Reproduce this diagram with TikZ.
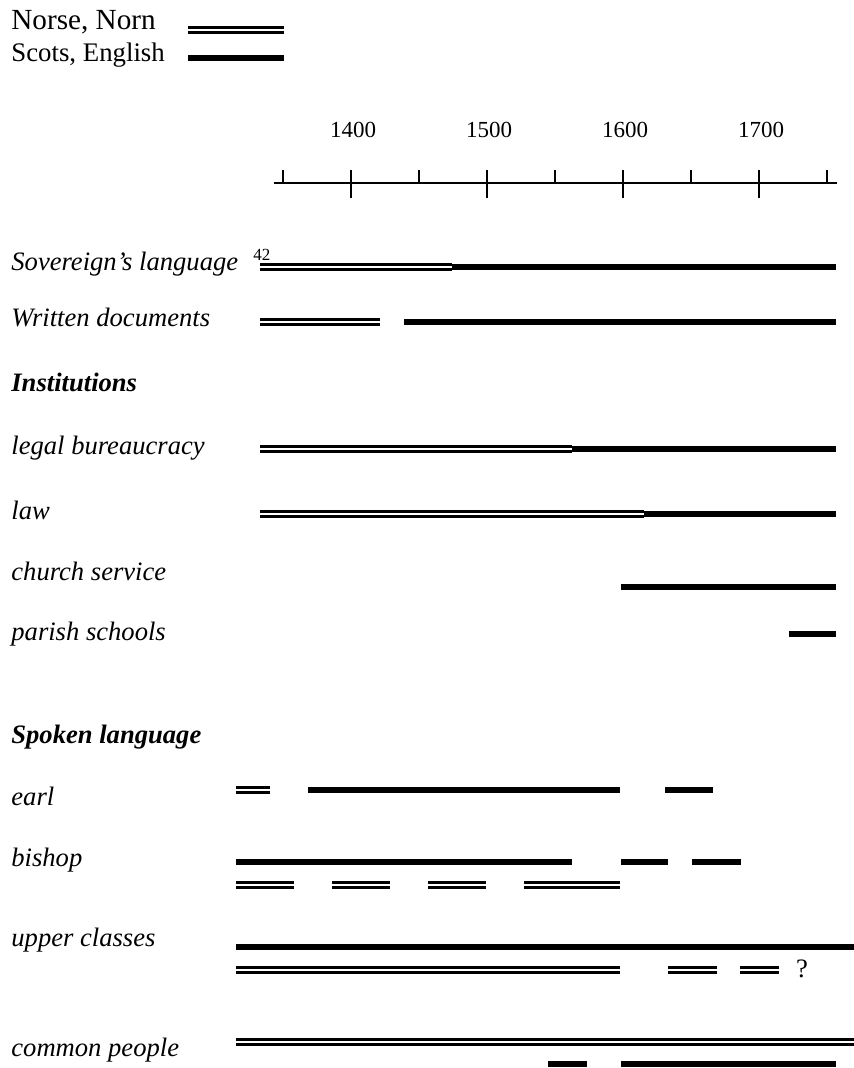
\documentclass[tikz,border=0pt]{standalone}
\usepackage{fontspec}
\setmainfont{Liberation Serif}
\usetikzlibrary{positioning}

\tikzset{
    norn/.style={draw=black, double=white, line width=1.25pt, double distance=1.25pt},
    scots/.style={draw=black, line width=3.2pt},
    rowlabel/.style={anchor=base west, inner sep=0pt, font=\fontsize{13.3pt}{15pt}\selectfont\itshape},
    grouplabel/.style={rowlabel, font=\fontsize{13.3pt}{15pt}\selectfont\bfseries\itshape},
    yearlabel/.style={anchor=base, inner sep=0pt, font=\fontsize{11.5pt}{13pt}\selectfont}
}

\begin{document}
\begin{tikzpicture}[x=0.5pt, y=-0.5pt]
    \useasboundingbox (0,0) rectangle (854,1068);

    % legend
    \begin{scope}
        \node[anchor=base west, inner sep=0pt, font=\fontsize{14.6pt}{16pt}\selectfont] (norse) at (11,30) {Norse, Norn};
        \node[anchor=base west, inner sep=0pt, font=\fontsize{13.4pt}{15pt}\selectfont] (scots) at (11,62) {Scots, English};
        \draw [norn] (188,30) -- (284,30);
        \draw [scots] (188,58) -- (284,58);
    \end{scope}

    % time axis
    \begin{scope}
        \draw [line width=0.75pt] (274,183) -- (837,183);
        \foreach \k in {0,2,4,6,8}
            \draw [line width=1pt] (283+68*\k,170) -- (283+68*\k,183);
        \foreach \k/\yr in {1/1400,3/1500,5/1600,7/1700} {
            \draw [line width=1pt] (283+68*\k,170) -- (283+68*\k,198);
            \node[yearlabel] (y\yr) at (285+68*\k,138) {\yr};
        }
    \end{scope}

    % written use
    \node[rowlabel] (sov) at (11,271) {Sovereign’s language};
    \node[anchor=base west, inner sep=0pt, font=\fontsize{8.5pt}{9pt}\selectfont] (note) at (253,261) {42};
    \draw [norn] (260,267) -- (452,267);
    \draw [scots] (452,267) -- (836,267);

    \node[rowlabel] (written) at (11,327) {Written documents};
    \draw [norn] (260,322) -- (380,322);
    \draw [scots] (404,322) -- (836,322);

    \node[grouplabel] (inst) at (11,392) {Institutions};

    \node[rowlabel] (legal) at (11,454) {legal bureaucracy};
    \draw [norn] (260,449) -- (572,449);
    \draw [scots] (572,449) -- (836,449);

    \node[rowlabel] (law) at (11,519) {law};
    \draw [norn] (260,514) -- (644,514);
    \draw [scots] (644,514) -- (836,514);

    \node[rowlabel] (church) at (11,580) {church service};
    \draw [scots] (621,587) -- (836,587);

    \node[rowlabel] (parish) at (11,640) {parish schools};
    \draw [scots] (789,634) -- (836,634);

    % spoken use
    \node[grouplabel] (spoken) at (11,743) {Spoken language};

    \node[rowlabel] (earl) at (11,805) {earl};
    \draw [norn] (236,790) -- (270,790);
    \draw [scots] (308,790) -- (620,790);
    \draw [scots] (665,790) -- (713,790);

    \node[rowlabel] (bishop) at (11,866) {bishop};
    \draw [scots] (236,862) -- (572,862);
    \draw [scots] (621,862) -- (668,862);
    \draw [scots] (692,862) -- (741,862);
    \foreach \a/\b in {236/294, 332/390, 428/486, 524/620}
        \draw [norn] (\a,885) -- (\b,885);

    \node[rowlabel] (upper) at (11,946) {upper classes};
    \draw [scots] (236,947) -- (854,947);
    \draw [norn] (236,970) -- (620,970);
    \draw [norn] (668,970) -- (717,970);
    \draw [norn] (740,970) -- (779,970);
    \node[anchor=base, inner sep=0pt, font=\fontsize{13.3pt}{15pt}\selectfont] (unsure) at (802,977) {?};

    \node[rowlabel] (common) at (11,1056) {common people};
    \draw [norn] (236,1042) -- (854,1042);
    \draw [scots] (548,1064) -- (587,1064);
    \draw [scots] (621,1064) -- (836,1064);

\end{tikzpicture}
\end{document}
